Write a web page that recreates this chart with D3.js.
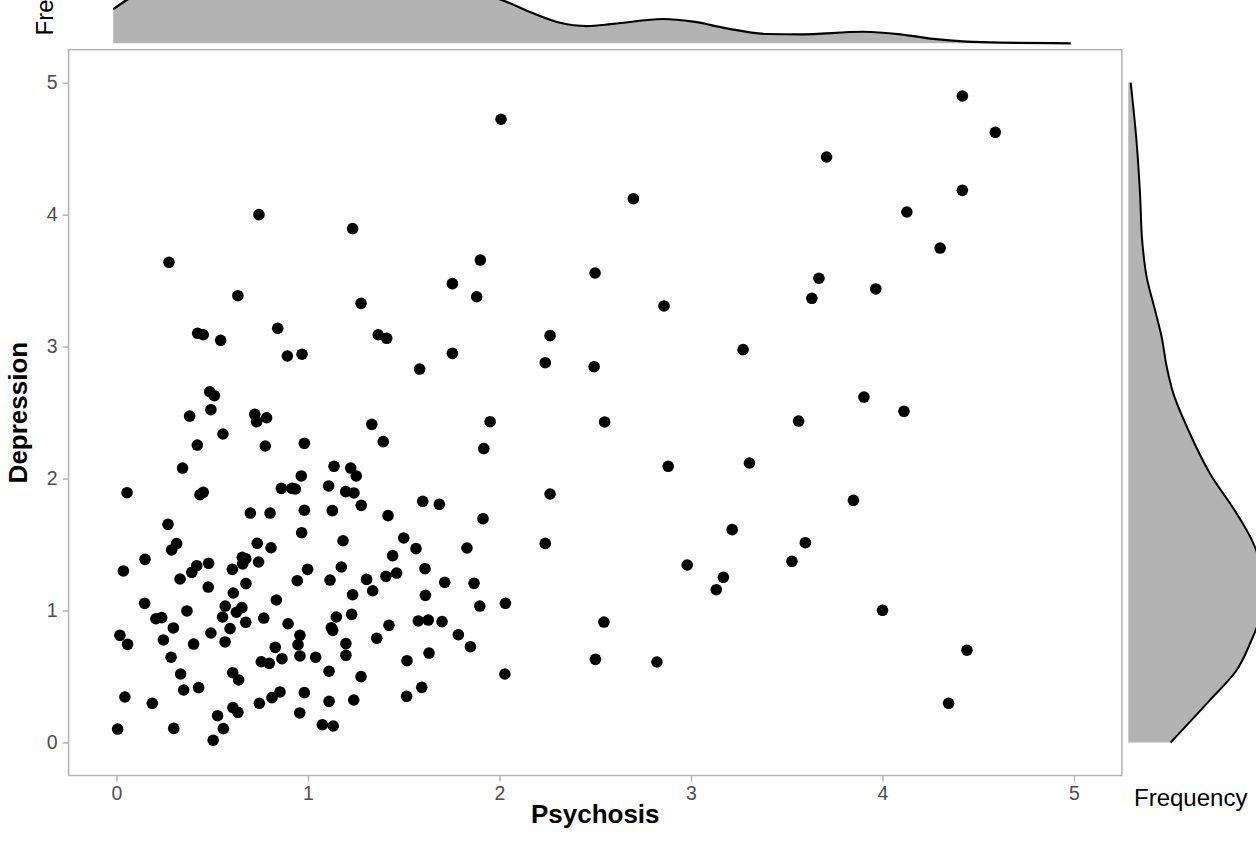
<!DOCTYPE html>
<html>
<head>
<meta charset="utf-8">
<script src="https://cdnjs.cloudflare.com/ajax/libs/d3/7.8.5/d3.min.js"></script>
<style>
  html, body { margin: 0; padding: 0; background: #ffffff; }
  svg { display: block; font-family: "Liberation Sans", Arial, Helvetica, sans-serif; }
</style>
</head>
<body>
<svg id="chart" width="1256" height="846"></svg>
<script>
// Psychosis / depression scores per respondent (paired by index)
const psychosis = [
  0.744,1.233,0.274,1.900,0.634,1.754,1.881,1.277,0.424,0.453,0.544,0.842,0.892,0.969,1.367,1.411,1.754,1.583,0.487,0.511,
  0.382,0.493,0.722,0.732,0.784,0.556,0.422,0.777,0.981,1.333,1.393,1.918,0.345,0.055,0.436,0.453,0.699,0.802,0.861,0.916,
  0.934,0.965,0.981,0.967,1.108,1.136,1.223,1.252,1.197,1.240,1.278,1.127,1.418,1.599,1.686,1.914,1.183,1.500,1.564,1.830,
  1.442,1.611,1.407,1.463,1.306,1.338,1.174,1.115,1.233,1.228,1.148,1.122,1.129,1.198,1.198,1.277,1.110,1.110,1.239,1.075,
  1.132,1.714,1.867,1.613,1.897,1.576,1.628,1.700,1.423,1.359,1.785,1.848,1.632,1.517,1.515,1.594,0.981,0.957,1.040,0.958,
  0.948,0.958,0.896,0.864,0.829,0.835,0.769,0.756,0.798,0.854,0.812,0.746,0.608,0.634,0.528,0.558,0.505,0.299,0.006,0.044,
  0.187,0.351,0.429,0.335,0.285,0.607,0.638,0.403,0.245,0.018,0.058,0.297,0.493,0.567,0.593,0.554,0.675,0.626,0.655,0.568,
  0.610,0.676,0.605,0.659,0.657,0.675,0.735,0.742,0.807,0.998,0.944,0.481,0.479,0.419,0.393,0.332,0.269,0.314,0.288,0.149,
  0.036,0.147,0.206,0.236,0.368,
  2.239,2.494,3.903,4.112,1.951,2.549,3.562,2.881,3.305,2.264,3.848,3.215,2.239,3.597,3.527,2.980,3.169,3.132,2.031,4.000,
  2.545,4.441,2.501,2.822,2.028,4.345,4.417,2.008,4.589,3.708,2.699,4.417,4.127,4.301,2.499,3.668,3.965,3.631,2.859,2.264,
  3.272
];
const depression = [
  4.000,3.894,3.639,3.656,3.386,3.477,3.378,3.328,3.101,3.090,3.048,3.139,2.929,2.942,3.090,3.063,2.949,2.830,2.658,2.628,
  2.474,2.522,2.487,2.431,2.461,2.338,2.254,2.247,2.267,2.411,2.280,2.227,2.080,1.893,1.878,1.896,1.739,1.739,1.926,1.926,
  1.921,2.020,1.760,1.590,1.944,2.093,2.080,2.020,1.901,1.891,1.797,1.757,1.719,1.828,1.805,1.696,1.529,1.550,1.469,1.474,
  1.416,1.317,1.259,1.284,1.236,1.150,1.330,1.231,1.120,0.971,0.951,0.870,0.850,0.749,0.661,0.499,0.540,0.312,0.322,0.135,
  0.125,1.214,1.206,1.115,1.034,0.921,0.928,0.916,0.888,0.790,0.817,0.726,0.678,0.620,0.350,0.418,0.378,0.224,0.646,0.656,
  0.741,0.812,0.900,0.635,0.721,1.080,0.943,0.612,0.600,0.383,0.340,0.297,0.264,0.229,0.203,0.105,0.017,0.107,0.102,0.345,
  0.297,0.398,0.416,0.519,0.646,0.529,0.474,0.746,0.777,0.812,0.744,0.868,0.830,0.762,0.863,0.951,0.911,0.987,1.022,1.034,
  1.133,1.204,1.312,1.353,1.403,1.393,1.510,1.368,1.476,1.312,1.226,1.358,1.178,1.340,1.290,1.239,1.653,1.507,1.459,1.388,
  1.300,1.055,0.938,0.946,0.997,
  2.878,2.848,2.618,2.510,2.431,2.429,2.436,2.093,2.118,1.883,1.835,1.613,1.509,1.514,1.373,1.345,1.252,1.158,1.055,1.002,
  0.913,0.699,0.630,0.610,0.519,0.297,4.899,4.723,4.624,4.437,4.121,4.184,4.020,3.747,3.558,3.518,3.437,3.366,3.308,3.083,
  2.977
];

// Marginal density of psychosis (evaluated over 0..5)
const psyGrid    = [0, 0.07, 0.25, 0.5, 0.75, 1.0, 1.25, 1.5, 1.75, 2.028, 2.193, 2.333, 2.472, 2.611, 2.872, 3.029, 3.203, 3.412, 3.586, 3.916, 4.11, 4.282, 4.456, 4.63, 5.0];
const psyDensity = [0.227, 0.289, 0.40, 0.48, 0.52, 0.52, 0.49, 0.44, 0.37, 0.289, 0.200, 0.137, 0.115, 0.129, 0.162, 0.144, 0.100, 0.062, 0.059, 0.077, 0.060, 0.029, 0.011, 0.004, 0.0];

// Marginal density of depression (evaluated over 0..5)
const depGrid    = [0, 0.321, 0.548, 0.751, 1.0, 1.2, 1.35, 1.509, 1.736, 2.039, 2.368, 2.646, 2.848, 3.075, 3.277, 3.530, 3.783, 4.162, 4.541, 5.0];
const depDensity = [0.141, 0.272, 0.361, 0.406, 0.445, 0.452, 0.441, 0.417, 0.361, 0.272, 0.200, 0.150, 0.128, 0.111, 0.089, 0.061, 0.047, 0.039, 0.028, 0.008];

const xTicks = [0, 1, 2, 3, 4, 5];
const yTicks = [0, 1, 2, 3, 4, 5];

const svg = d3.select("#chart");

// Main panel geometry
const panel = { left: 68.6, right: 1121.9, top: 49.7, bottom: 775.5 };
const x = d3.scaleLinear().domain([-0.25, 5.25]).range([panel.left, panel.right]);
const y = d3.scaleLinear().domain([-0.25, 5.25]).range([panel.bottom, panel.top]);

// Marginal scales
const xTop = d3.scaleLinear().domain([-0.25, 5.25]).range([65.4, 1118.7]);
const topD = d3.scaleLinear().domain([0, 1]).range([43.3, 43.3 - 150]);
const rightD = d3.scaleLinear().domain([0, 1]).range([1128.3, 1128.3 + 300]);

const gray = "#b3b3b3";

// ---- top marginal density ----
const topData = psyGrid.map((v, i) => ({ v, d: psyDensity[i] }));
svg.append("path")
  .datum(topData)
  .attr("fill", gray)
  .attr("d", d3.area().x(d => xTop(d.v)).y0(topD(0)).y1(d => topD(d.d)).curve(d3.curveMonotoneX));
svg.append("path")
  .datum(topData)
  .attr("fill", "none").attr("stroke", "#000").attr("stroke-width", 2.2)
  .attr("d", d3.line().x(d => xTop(d.v)).y(d => topD(d.d)).curve(d3.curveMonotoneX));

svg.append("text")
  .attr("transform", `translate(53,35.5) rotate(-90)`)
  .attr("text-anchor", "start")
  .attr("font-size", 24)
  .attr("fill", "#000")
  .text("Frequency");

// ---- right marginal density ----
const rightData = depGrid.map((v, i) => ({ v, d: depDensity[i] }));
svg.append("path")
  .datum(rightData)
  .attr("fill", gray)
  .attr("d", d3.area().y(d => y(d.v)).x0(rightD(0)).x1(d => rightD(d.d)).curve(d3.curveMonotoneY));
svg.append("path")
  .datum(rightData)
  .attr("fill", "none").attr("stroke", "#000").attr("stroke-width", 2)
  .attr("d", d3.line().y(d => y(d.v)).x(d => rightD(d.d)).curve(d3.curveMonotoneY));

svg.append("text")
  .attr("x", 1134).attr("y", 806)
  .attr("text-anchor", "start")
  .attr("font-size", 24)
  .attr("fill", "#000")
  .text("Frequency");

// ---- scatter panel ----
svg.append("rect")
  .attr("x", panel.left).attr("y", panel.top)
  .attr("width", panel.right - panel.left).attr("height", panel.bottom - panel.top)
  .attr("fill", "#fff").attr("stroke", gray).attr("stroke-width", 1.5);

const xAxis = svg.append("g")
  .attr("transform", `translate(0,${panel.bottom})`)
  .call(d3.axisBottom(x).tickValues(xTicks).tickFormat(d3.format("d")).tickSize(6).tickPadding(4.5));
const yAxis = svg.append("g")
  .attr("transform", `translate(${panel.left},0)`)
  .call(d3.axisLeft(y).tickValues(yTicks).tickFormat(d3.format("d")).tickSize(6).tickPadding(5));

[xAxis, yAxis].forEach(g => {
  g.select(".domain").remove();
  g.selectAll(".tick line").attr("stroke", gray).attr("stroke-width", 1.5);
  g.selectAll(".tick text")
    .attr("fill", "#4d4d4d")
    .attr("font-size", 19.5)
    .attr("font-family", "'Liberation Sans', Arial, Helvetica, sans-serif");
});

const pts = psychosis.map((p, i) => ({ p, dep: depression[i] }));
svg.append("g")
  .selectAll("circle")
  .data(pts)
  .join("circle")
  .attr("cx", d => x(d.p))
  .attr("cy", d => y(d.dep))
  .attr("r", 5.8)
  .attr("fill", "#000");

// ---- axis titles ----
svg.append("text")
  .attr("x", (panel.left + panel.right) / 2).attr("y", 823)
  .attr("text-anchor", "middle")
  .attr("font-size", 26).attr("font-weight", "bold")
  .attr("fill", "#000")
  .text("Psychosis");

svg.append("text")
  .attr("transform", `translate(27,${(panel.top + panel.bottom) / 2}) rotate(-90)`)
  .attr("text-anchor", "middle")
  .attr("font-size", 26).attr("font-weight", "bold")
  .attr("fill", "#000")
  .text("Depression");
</script>
</body>
</html>
